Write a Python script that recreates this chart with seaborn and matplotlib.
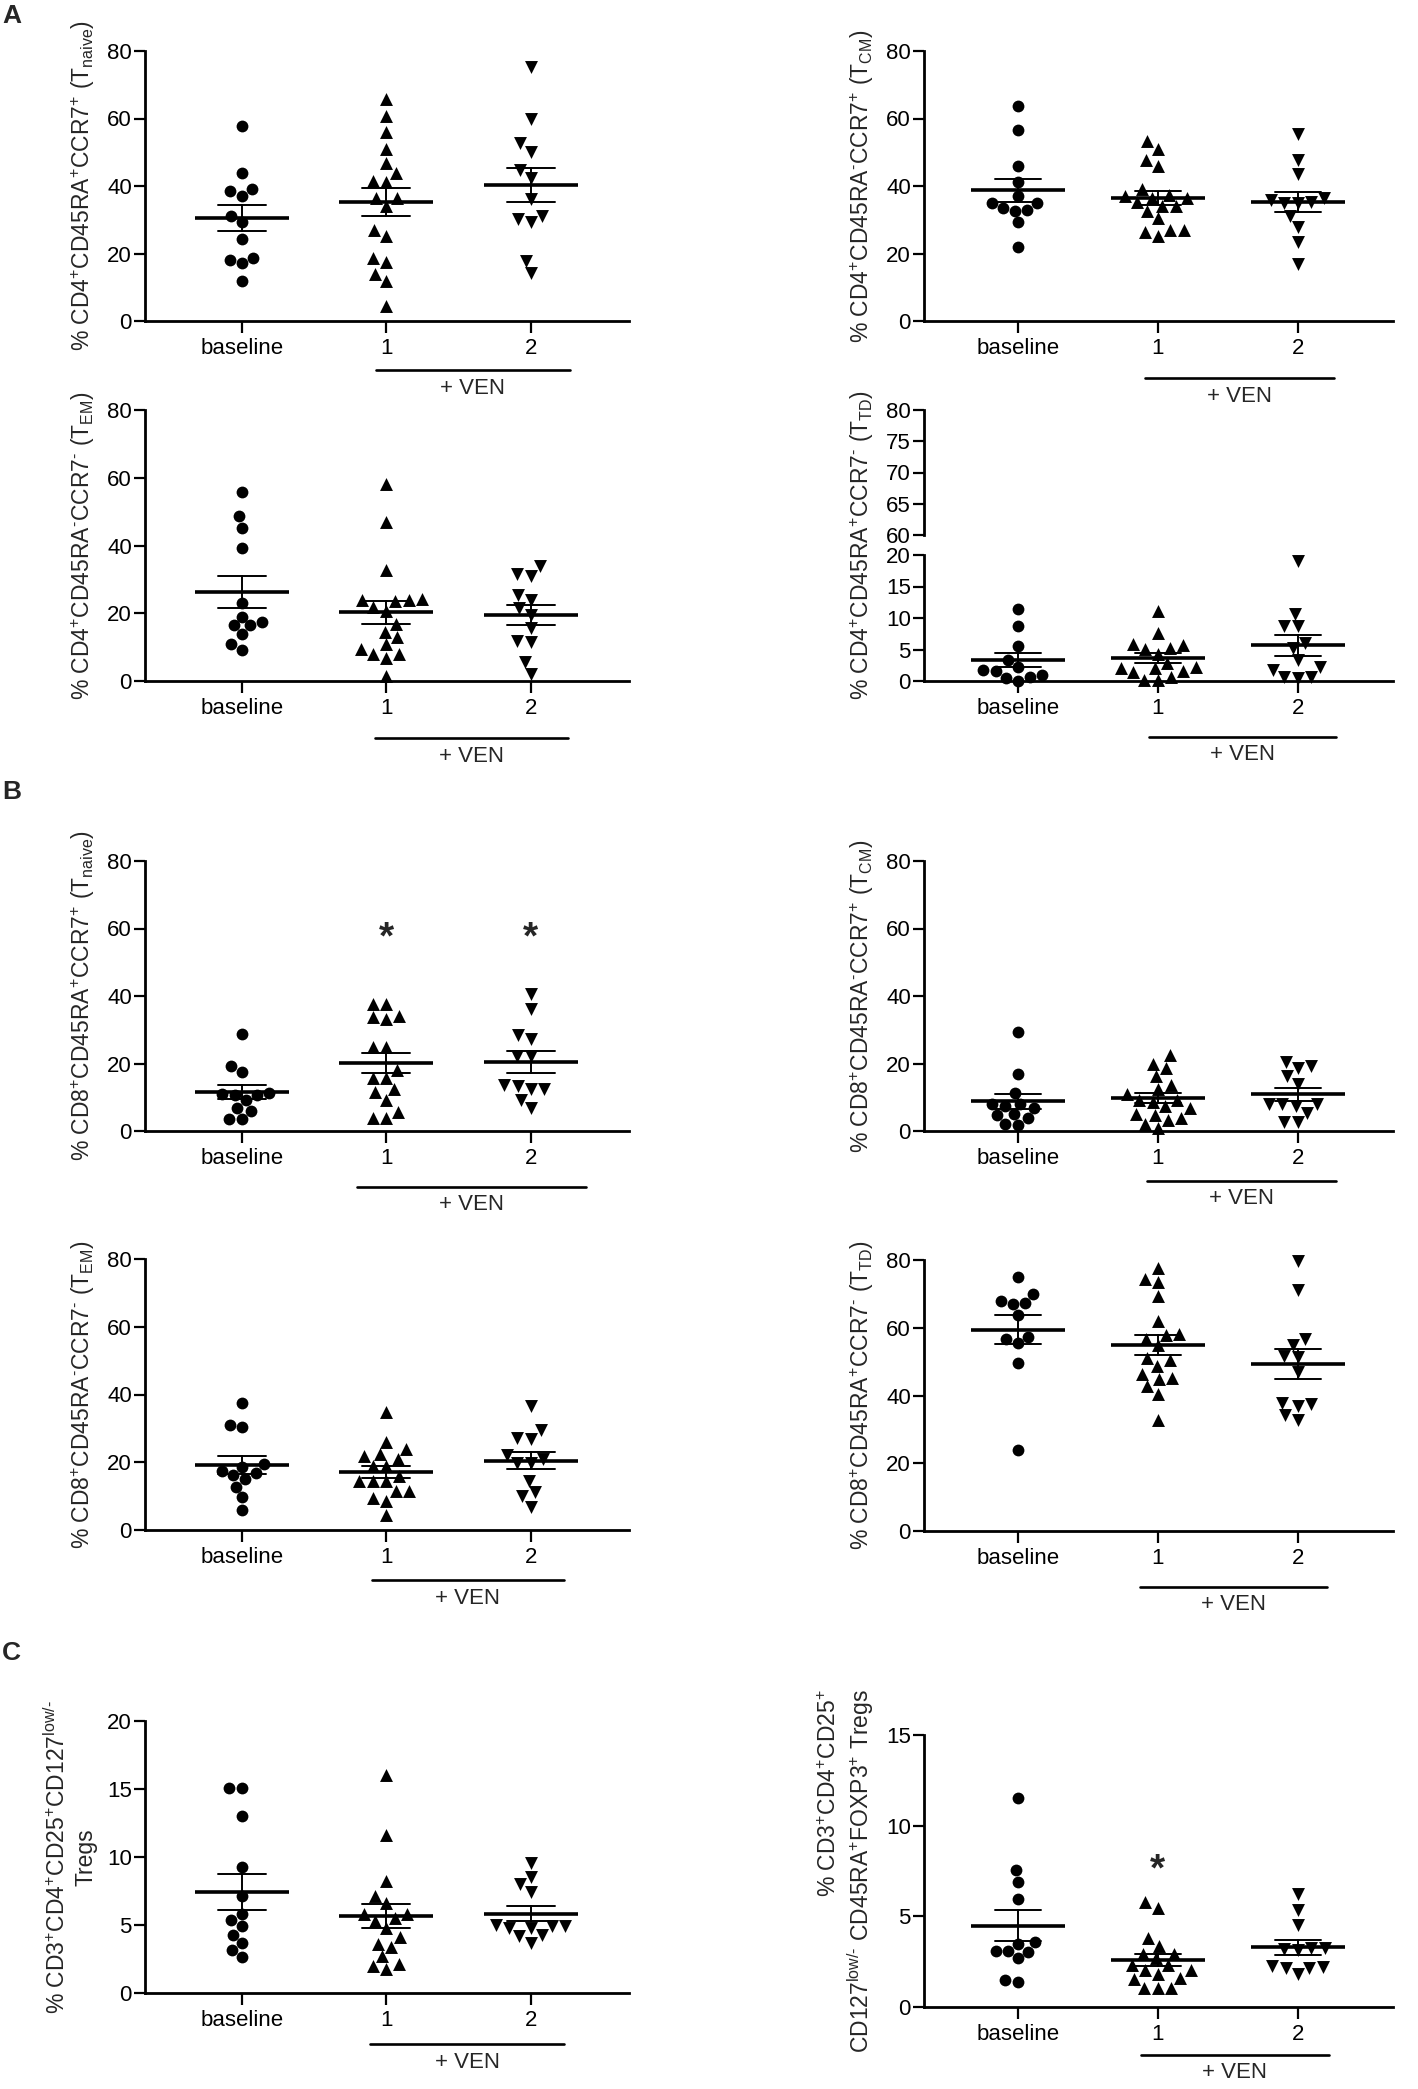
import pandas as pd
import matplotlib.pyplot as plt
import seaborn as sns

# groups on the x axis
groups = ["baseline", "1", "2"]
group_markers = ["o", "^", "v"]

# A - CD4 subsets (% of CD4+)
cd4_naive_base = [57.7, 44.0, 38.5, 39.1, 37.1, 31.0, 29.2, 24.3, 18.8, 18.2, 17.2, 11.9]
cd4_naive_c1 = [65.8, 60.6, 55.9, 51.0, 46.8, 44.0, 41.3, 41.5, 36.5, 36.5, 34.0, 26.9, 25.3, 18.6, 17.6, 14.0, 11.9, 4.3]
cd4_naive_c2 = [75.3, 60.0, 52.7, 50.2, 44.8, 42.3, 36.1, 31.2, 30.2, 29.2, 17.8, 14.2]

cd4_cm_base = [63.6, 56.5, 45.8, 41.1, 37.1, 35.0, 35.0, 33.4, 33.0, 32.6, 29.2, 21.9]
cd4_cm_c1 = [53.3, 51.0, 47.8, 45.8, 39.1, 37.3, 37.1, 36.3, 36.3, 35.4, 34.0, 34.0, 32.6, 30.4, 26.5, 26.9, 26.9, 25.3]
cd4_cm_c2 = [55.3, 47.8, 43.7, 36.3, 36.0, 35.0, 35.2, 35.0, 31.0, 27.9, 23.3, 17.0]

cd4_em_base = [55.8, 48.7, 45.3, 39.4, 22.9, 18.9, 17.3, 16.4, 16.4, 13.8, 11.0, 9.1]
cd4_em_c1 = [58.3, 46.9, 32.7, 23.8, 23.6, 24.0, 24.2, 21.7, 20.7, 16.9, 14.6, 13.0, 10.8, 9.5, 7.9, 7.9, 6.9, 1.4]
cd4_em_c2 = [33.9, 31.1, 31.7, 25.4, 24.0, 21.5, 19.5, 15.6, 11.4, 11.8, 5.7, 2.2]

cd4_td_base = [11.5, 8.8, 5.6, 3.4, 2.3, 1.8, 1.6, 1.0, 0.5, 0.6, 0.0]
cd4_td_c1 = [11.1, 7.6, 5.7, 5.9, 5.1, 5.2, 4.3, 2.9, 2.2, 2.1, 2.1, 1.6, 1.4, 0.7, 0.2, 0.1]
cd4_td_c2 = [19.1, 10.7, 8.7, 8.8, 6.1, 5.3, 3.4, 2.2, 1.7, 0.6, 0.6, 0.5]

# B - CD8 subsets
cd8_naive_base = [28.6, 19.2, 17.6, 10.7, 11.1, 11.3, 10.6, 9.1, 6.7, 5.9, 3.5, 3.7]
cd8_naive_c1 = [37.5, 37.7, 33.8, 33.2, 34.1, 24.9, 24.9, 18.0, 15.6, 15.6, 12.4, 11.5, 9.3, 5.7, 3.8, 4.0]
cd8_naive_c2 = [40.7, 36.2, 28.5, 27.3, 22.3, 22.3, 13.3, 13.5, 12.5, 12.3, 9.3, 6.7]

cd8_cm_base = [29.2, 16.8, 11.3, 8.1, 8.1, 7.5, 6.9, 5.1, 4.7, 3.8, 2.2, 1.8]
cd8_cm_c1 = [22.5, 20.0, 18.8, 16.2, 13.6, 12.4, 10.9, 9.1, 8.5, 9.1, 7.3, 6.7, 4.7, 4.9, 3.8, 3.4, 2.2, 0.8]
cd8_cm_c2 = [20.5, 19.4, 18.6, 16.2, 13.8, 7.9, 8.1, 7.9, 7.3, 5.3, 2.8, 2.6]

cd8_em_base = [37.4, 30.9, 30.3, 19.5, 18.7, 17.5, 16.9, 16.2, 15.2, 12.8, 9.7, 5.9]
cd8_em_c1 = [34.7, 26.0, 24.0, 22.3, 21.7, 20.9, 18.9, 18.9, 16.0, 14.6, 14.6, 14.6, 11.4, 11.6, 9.5, 8.7, 4.5]
cd8_em_c2 = [36.5, 29.4, 27.0, 27.2, 22.1, 21.1, 19.7, 19.7, 14.6, 11.2, 9.9, 6.9]

cd8_td_base = [75.1, 70.0, 67.8, 67.0, 67.2, 63.8, 56.7, 57.3, 55.4, 49.7, 23.8]
cd8_td_c1 = [77.6, 73.5, 74.5, 69.4, 62.1, 58.1, 57.9, 56.6, 54.8, 51.0, 50.4, 48.7, 46.3, 44.9, 45.3, 42.8, 40.4, 32.9]
cd8_td_c2 = [79.8, 71.1, 56.7, 55.0, 51.4, 51.6, 46.9, 37.8, 37.0, 37.6, 34.1, 32.7]

# C - Tregs
treg_base = [15.05, 15.05, 13.0, 9.26, 7.16, 5.78, 5.34, 4.9, 4.26, 3.68, 3.14, 2.65]
treg_c1 = [16.0, 11.6, 8.2, 7.1, 6.6, 5.8, 5.8, 5.5, 5.3, 4.75, 4.1, 3.6, 3.4, 2.7, 2.1, 1.96, 1.8]
treg_c2 = [9.56, 8.5, 8.0, 7.45, 4.8, 4.9, 4.95, 5.0, 4.8, 4.26, 4.17, 3.7]

ntreg_base = [11.5, 7.54, 6.9, 5.96, 3.57, 3.49, 3.05, 3.09, 3.09, 2.68, 1.40, 1.47]
ntreg_c1 = [5.77, 5.48, 3.79, 3.38, 2.94, 2.94, 2.68, 2.32, 2.32, 2.06, 2.02, 1.84, 1.62, 1.54, 1.07, 1.07, 1.07]
ntreg_c2 = [6.21, 5.37, 4.52, 3.27, 3.16, 3.24, 3.2, 2.17, 2.24, 2.13, 2.2, 1.8]

# short hyphen used as superscript minus
NEG = "$^{\u2010}$"
POS = "$^{+}$"
labels = {
    "cd4_naive": f"% CD4{POS}CD45RA{POS}CCR7{POS} (T$_{{\\mathrm{{naive}}}}$)",
    "cd4_cm": f"% CD4{POS}CD45RA{NEG}CCR7{POS} (T$_{{\\mathrm{{CM}}}}$)",
    "cd4_em": f"% CD4{POS}CD45RA{NEG}CCR7{NEG} (T$_{{\\mathrm{{EM}}}}$)",
    "cd4_td": f"% CD4{POS}CD45RA{POS}CCR7{NEG} (T$_{{\\mathrm{{TD}}}}$)",
    "cd8_naive": f"% CD8{POS}CD45RA{POS}CCR7{POS} (T$_{{\\mathrm{{naive}}}}$)",
    "cd8_cm": f"% CD8{POS}CD45RA{NEG}CCR7{POS} (T$_{{\\mathrm{{CM}}}}$)",
    "cd8_em": f"% CD8{POS}CD45RA{NEG}CCR7{NEG} (T$_{{\\mathrm{{EM}}}}$)",
    "cd8_td": f"% CD8{POS}CD45RA{POS}CCR7{NEG} (T$_{{\\mathrm{{TD}}}}$)",
    "treg": f"% CD3{POS}CD4{POS}CD25{POS}CD127$^{{\\mathrm{{low/\u2010}}}}$\nTregs",
    "ntreg": f"% CD3{POS}CD4{POS}CD25{POS}\nCD127$^{{\\mathrm{{low/\u2010}}}}$ CD45RA{POS}FOXP3{POS} Tregs",
}

sns.set_style("ticks")
plt.rcParams["font.family"] = ["Liberation Sans", "DejaVu Sans"]
plt.rcParams["mathtext.fontset"] = "custom"
plt.rcParams["mathtext.rm"] = "Liberation Sans"
plt.rcParams["mathtext.it"] = "Liberation Sans:italic"
plt.rcParams["mathtext.bf"] = "Liberation Sans:bold"

W, H = 1418, 2089
FS = 16
LFS = 16.5
fig = plt.figure(figsize=(W / 100, H / 100), dpi=100)


def make_ax(left, top, width, bottom):
    return fig.add_axes([left / W, 1 - bottom / H, width / W, (bottom - top) / H])


def style_ax(ax, yticks, show_x=True):
    ax.set_ylim(yticks[0], yticks[-1])
    ax.set_yticks(yticks)
    ax.set_xlim(-0.67, 2.68)
    ax.set_xlabel("")
    ax.set_ylabel("")
    for s in ["top", "right"]:
        ax.spines[s].set_visible(False)
    for s in ["left", "bottom"]:
        ax.spines[s].set_linewidth(2.0)
        ax.spines[s].set_color("black")
    ax.tick_params(axis="y", width=1.6, length=8, labelsize=FS, pad=1.5, colors="black")
    ax.tick_params(axis="x", width=1.6, length=8.5, labelsize=FS, pad=4, colors="black")
    if not show_x:
        ax.spines["bottom"].set_visible(False)
        ax.tick_params(axis="x", bottom=False, labelbottom=False)
    ax.set_facecolor("none")


def draw_panel(ax, base, c1, c2):
    df = pd.DataFrame({
        "group": ["baseline"] * len(base) + ["1"] * len(c1) + ["2"] * len(c2),
        "value": base + c1 + c2,
    })
    for g, m in zip(groups, group_markers):
        sub = df[df["group"] == g]
        sns.swarmplot(data=sub, x="group", y="value", order=groups, marker=m,
                      size=8.5 if m == "o" else 9.3, color="black", linewidth=0,
                      ax=ax, clip_on=False, zorder=2, warn_thresh=1)
    sns.pointplot(data=df, x="group", y="value", order=groups, errorbar="se",
                  capsize=0.33, marker="_", linestyle="none", markersize=67,
                  markeredgewidth=2.6, color="black", err_kws={"linewidth": 1.4},
                  ax=ax, zorder=3)


def ven_bar(ax, x0, x1, drop, h):
    tr = ax.get_xaxis_transform()
    ax.plot([x0, x1], [-drop / h, -drop / h], color="black", lw=1.9,
            transform=tr, clip_on=False)
    ax.text((x0 + x1) / 2, -(drop + 18) / h, "+ VEN", transform=tr,
            ha="center", va="center", fontsize=FS)


def add_stars(ax, xs, y):
    for x in xs:
        ax.annotate("*", (x, y), xytext=(0, -16), textcoords="offset points",
                    ha="center", va="baseline", fontsize=28, fontweight="bold")


ticks80 = [0, 20, 40, 60, 80]
LEFT_X, LEFT_W = 145, 484
RIGHT_X, RIGHT_W = 924, 469

# (key, data, left, width, top, bottom, yticks, ven span, ven drop)
panels = [
    ("cd4_naive", (cd4_naive_base, cd4_naive_c1, cd4_naive_c2), LEFT_X, LEFT_W, 51, 321, ticks80, (0.93, 2.27), 49),
    ("cd4_cm", (cd4_cm_base, cd4_cm_c1, cd4_cm_c2), RIGHT_X, RIGHT_W, 51, 321, ticks80, (0.91, 2.26), 57),
    ("cd4_em", (cd4_em_base, cd4_em_c1, cd4_em_c2), LEFT_X, LEFT_W, 410, 681, ticks80, (0.92, 2.26), 57),
    ("cd8_naive", (cd8_naive_base, cd8_naive_c1, cd8_naive_c2), LEFT_X, LEFT_W, 861, 1131, ticks80, (0.80, 2.38), 56),
    ("cd8_cm", (cd8_cm_base, cd8_cm_c1, cd8_cm_c2), RIGHT_X, RIGHT_W, 861, 1131, ticks80, (0.92, 2.27), 50),
    ("cd8_em", (cd8_em_base, cd8_em_c1, cd8_em_c2), LEFT_X, LEFT_W, 1259, 1530, ticks80, (0.90, 2.23), 50),
    ("cd8_td", (cd8_td_base, cd8_td_c1, cd8_td_c2), RIGHT_X, RIGHT_W, 1260, 1531, ticks80, (0.87, 2.21), 56),
    ("treg", (treg_base, treg_c1, treg_c2), LEFT_X, LEFT_W, 1721, 1993, [0, 5, 10, 15, 20], (0.89, 2.23), 51),
    ("ntreg", (ntreg_base, ntreg_c1, ntreg_c2), RIGHT_X, RIGHT_W, 1735, 2007, [0, 5, 10, 15], (0.88, 2.22), 48),
]

axes = {}
for key, data, x0, w, top, bottom, yt, span, drop in panels:
    ax = make_ax(x0, top, w, bottom)
    draw_panel(ax, *[list(d) for d in data])
    style_ax(ax, yt)
    h = bottom - top
    ax.set_ylabel(labels[key], fontsize=LFS,
                  multialignment="right" if key == "ntreg" else "center")
    ax.yaxis.set_label_coords(-48 / w, 0.5)
    ven_bar(ax, span[0], span[1], drop, h)
    axes[key] = ax

# A - T_TD panel with broken y axis
ax_top = make_ax(RIGHT_X, 410, RIGHT_W, 535)
ax_bot = make_ax(RIGHT_X, 555, RIGHT_W, 681)
draw_panel(ax_bot, cd4_td_base, cd4_td_c1, cd4_td_c2)
style_ax(ax_bot, [0, 5, 10, 15, 20])
style_ax(ax_top, [60, 65, 70, 75, 80], show_x=False)
ax_bot.set_ylabel(labels["cd4_td"], fontsize=LFS)
ax_bot.yaxis.set_label_coords(-48 / RIGHT_W, (681 - 545.5) / 126)
ven_bar(ax_bot, 0.94, 2.27, 56, 126)

# significance marks
add_stars(axes["cd8_naive"], [1, 2], 60.6)
add_stars(axes["ntreg"], [1], 8.2)

# panel letters
for letter, y in [("A", 16), ("B", 792), ("C", 1653)]:
    fig.text(2 / W, 1 - y / H, letter, fontsize=19, fontweight="bold",
             ha="left", va="center")

fig.savefig("out.png", dpi=100, facecolor="white")
